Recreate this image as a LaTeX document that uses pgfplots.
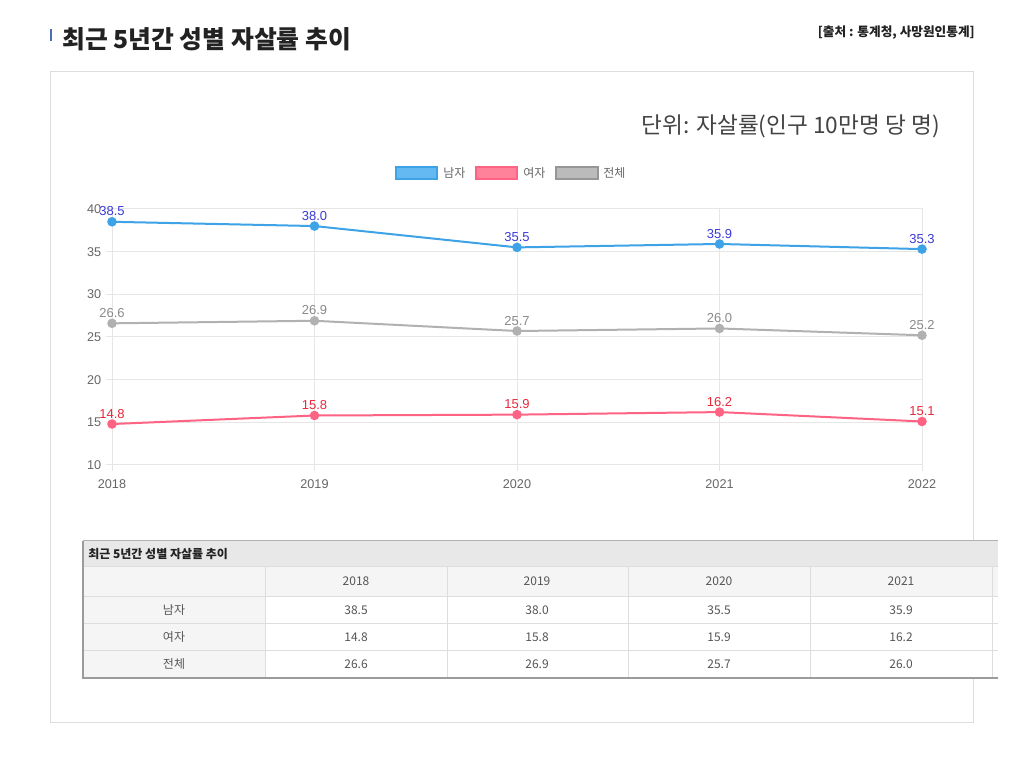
\documentclass[border=0pt]{standalone}
\usepackage{fontspec}
\setmainfont{Noto Sans CJK KR}
\newfontfamily\chartfont{Liberation Sans}
\usepackage{pgfplots}
\pgfplotsset{compat=1.18}
\definecolor{cblue}{HTML}{3DA2E6}
\definecolor{cpink}{HTML}{FF6384}
\definecolor{cgrey}{HTML}{B1B1B1}
\definecolor{fblue}{HTML}{64B9F2}
\definecolor{fpink}{HTML}{FF829A}
\definecolor{fgrey}{HTML}{BBBBBB}
\definecolor{lblue}{HTML}{3A3AD8}
\definecolor{lpink}{HTML}{E8283A}
\definecolor{lgrey}{HTML}{8A8A8A}
\definecolor{gridc}{HTML}{E6E6E6}
\definecolor{tickc}{HTML}{666666}
\definecolor{boxc}{HTML}{DDDDDD}
\definecolor{titlec}{HTML}{222222}
\definecolor{barc}{HTML}{4A6FB5}
\definecolor{thead}{HTML}{E8E8E8}
\definecolor{tsub}{HTML}{F5F5F5}
\definecolor{tline}{HTML}{DDDDDD}
\definecolor{ttext}{HTML}{555555}
\begin{document}
\begin{tikzpicture}[x=0.75pt,y=0.75pt]
\begin{scope}[y=-0.75pt, shift={(0pt,585pt)}]
\fill[white] (0,0) rectangle (1024,780);
\useasboundingbox (0,0) rectangle (1024,780);
% title
\fill[barc] (49.5,29) rectangle (52,41);
\node[anchor=west, inner sep=0pt, text=titlec, font=\fontsize{18.6}{22}\selectfont\bfseries] at (62,39) {최근 5년간 성별 자살률 추이};
\node[anchor=east, inner sep=0pt, text=titlec, font=\fontsize{9.5}{11}\selectfont\bfseries] at (975,33) {[출처 : 통계청, 사망원인통계]};
% outer box
\draw[boxc, line width=0.75pt] (50.5,71.5) rectangle (973.5,722.5);
% unit
\node[anchor=east, inner sep=0pt, text=titlec!85, font=\fontsize{17}{20}\selectfont] at (940,126) {단위: 자살률(인구 10만명 당 명)};
% legend
\filldraw[fill=fblue, draw=cblue, line width=0.9pt] (396,167) rectangle (437,179);
\node[anchor=west, inner sep=0pt, text=tickc, font=\fontsize{9}{11}\selectfont] at (443,173) {남자};
\filldraw[fill=fpink, draw=cpink, line width=0.9pt] (476,167) rectangle (517,179);
\node[anchor=west, inner sep=0pt, text=tickc, font=\fontsize{9}{11}\selectfont] at (523,173) {여자};
\filldraw[fill=fgrey, draw=cgrey!85!black, line width=0.9pt] (556,167) rectangle (598,179);
\node[anchor=west, inner sep=0pt, text=tickc, font=\fontsize{9}{11}\selectfont] at (603,173) {전체};
\end{scope}

\begin{axis}[
 at={(84pt,236.25pt)}, anchor=south west,
 scale only axis, width=607.5pt, height=192pt,
 xmin=0, xmax=4, ymin=10, ymax=40,
 xtick={0,1,2,3,4}, xticklabels={2018,2019,2020,2021,2022},
 ytick={10,15,20,25,30,35,40},
 xtick pos=lower, ytick pos=left,
 grid=major, grid style={gridc, line width=0.75pt},
 axis line style={gridc, line width=0.75pt},
 tick style={gridc, line width=0.75pt},
 tick align=outside, major tick length=4.5pt,
 ticklabel style={font=\chartfont\fontsize{9.5}{11}\selectfont, text=tickc},
 xticklabel style={yshift=-3pt},
 /pgf/number format/assume math mode=true,
 clip=false,
 nodes near coords={\pgfmathprintnumber[fixed,precision=1,zerofill]{\pgfplotspointmeta}},
 every node near coord/.append style={font=\chartfont\fontsize{9.75}{11}\selectfont, anchor=south, inner sep=1pt, yshift=2.5pt},
]
\addplot[cblue, line width=1.5pt, mark=*, mark size=2.8pt, mark options={fill=cblue, draw=cblue},
  every node near coord/.append style={text=lblue}] coordinates {(0,38.5) (1,38.0) (2,35.5) (3,35.9) (4,35.3)};
\addplot[cgrey, line width=1.5pt, mark=*, mark size=2.8pt, mark options={fill=cgrey, draw=cgrey},
  every node near coord/.append style={text=lgrey}] coordinates {(0,26.6) (1,26.9) (2,25.7) (3,26.0) (4,25.2)};
\addplot[cpink, line width=1.5pt, mark=*, mark size=2.8pt, mark options={fill=cpink, draw=cpink},
  every node near coord/.append style={text=lpink}] coordinates {(0,14.8) (1,15.8) (2,15.9) (3,16.2) (4,15.1)};
\end{axis}

\begin{scope}[y=-0.75pt, shift={(0pt,585pt)}]
% table
\fill[thead] (83,541) rectangle (998,567);
\fill[tsub] (83,567) rectangle (998,597);
\fill[tsub] (83,597) rectangle (265,678);
\fill[white] (265,597) rectangle (998,678);
\foreach \yy in {567,597,624,651} {\draw[tline, line width=0.75pt] (83,\yy) -- (998,\yy);}
\foreach \xx in {265,447,628,810,992} {\draw[tline, line width=0.75pt] (\xx,567) -- (\xx,678);}
\draw[boxc!80!black, line width=0.75pt] (83,541) -- (998,541);
\draw[boxc!70!black, line width=1.2pt] (83,541) -- (83,679);
\draw[boxc!70!black, line width=1.5pt] (83,678.5) -- (998,678.5);
\node[anchor=west, inner sep=0pt, text=titlec, font=\fontsize{9}{11}\selectfont\bfseries] at (88,554) {최근 5년간 성별 자살률 추이};
\begin{scope}[every node/.style={inner sep=0pt, text=ttext, font=\fontsize{9}{11}\selectfont}]
\node at (356,581) {2018};
\node at (537,581) {2019};
\node at (719,581) {2020};
\node at (901,581) {2021};
\node at (174,610) {남자};
\node at (174,637) {여자};
\node at (174,664) {전체};
\node at (356,610) {38.5}; \node at (537,610) {38.0}; \node at (719,610) {35.5}; \node at (901,610) {35.9};
\node at (356,637) {14.8}; \node at (537,637) {15.8}; \node at (719,637) {15.9}; \node at (901,637) {16.2};
\node at (356,664) {26.6}; \node at (537,664) {26.9}; \node at (719,664) {25.7}; \node at (901,664) {26.0};
\end{scope}
\end{scope}
\end{tikzpicture}
\end{document}
